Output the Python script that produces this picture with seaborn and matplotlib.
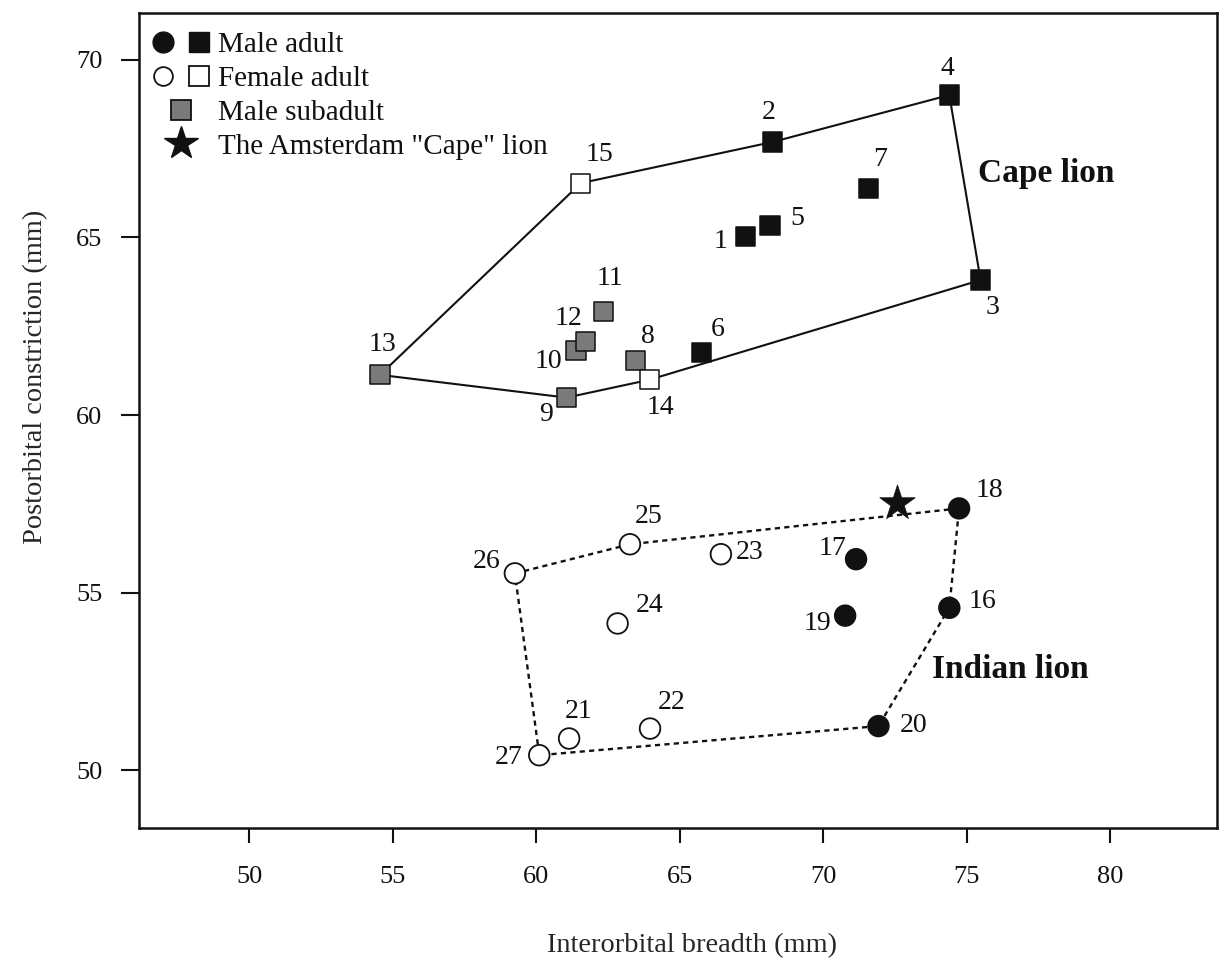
import numpy as np
import pandas as pd
import matplotlib
matplotlib.use("Agg")
import matplotlib.pyplot as plt
from matplotlib.lines import Line2D
from matplotlib.legend_handler import HandlerTuple
import seaborn as sns

# ---------------- data ----------------
specimen_id = list(range(1, 28))
interorbital = [67.31, 68.25, 75.49, 74.40, 68.15, 65.77, 71.58, 63.45, 61.06, 61.39,
                62.34, 61.73, 54.56, 63.94, 61.56,
                74.40, 71.15, 74.74, 70.77, 71.93, 61.15, 63.97, 66.44, 62.84, 63.27,
                59.26, 60.11]
postorbital = [65.02, 67.69, 63.80, 69.01, 65.33, 61.75, 66.37, 61.53, 60.49, 61.81,
               62.91, 62.06, 61.13, 60.99, 66.53,
               54.57, 55.94, 57.37, 54.35, 51.24, 50.89, 51.17, 56.08, 54.13, 56.36,
               55.54, 50.42]
population = ["Cape"] * 15 + ["Indian"] * 12
sex_age = (["Male adult"] * 7 + ["Male subadult"] * 6 + ["Female adult"] * 2
           + ["Male adult"] * 5 + ["Female adult"] * 7)

amsterdam_x = [72.59]
amsterdam_y = [57.53]

cape_hull_ids = [13, 15, 2, 4, 3, 14, 9, 13]
indian_hull_ids = [26, 25, 18, 16, 20, 27, 26]

x_ticks = [50, 55, 60, 65, 70, 75, 80]
y_ticks = [50, 55, 60, 65, 70]

# label offsets (pixels) relative to each marker
label_offsets = [(-25, -5), (-4, 29), (12, -27), (-2, 27), (27, 7), (16, 23), (12, 29),
                 (13, 24), (-20, -17), (-28, -11), (7, 33), (-17, 23), (2, 30),
                 (11, -28), (19, 29), (33, 6), (-24, 11), (30, 18), (-28, -8),
                 (35, 1), (10, 27), (22, 26), (29, 2), (32, 18), (19, 28), (-28, 12),
                 (-31, -2)]

df = pd.DataFrame({"id": specimen_id, "x": interorbital, "y": postorbital,
                   "population": population, "group": sex_age})

# ---------------- style ----------------
sns.set_theme(style="ticks")
plt.rcParams["font.family"] = ["Liberation Serif", "DejaVu Serif"]
plt.rcParams["axes.linewidth"] = 1.8
plt.rcParams["text.color"] = "#111111"

fig = plt.figure(figsize=(12.19, 9.58), dpi=100)
ax = fig.add_axes([0.114, 0.1357, 0.8844, 0.8507])

palette = {"Male adult": "#111111", "Female adult": "white", "Male subadult": "#7a7a7a"}

# hull lines
cx = [interorbital[i - 1] for i in cape_hull_ids]
cy = [postorbital[i - 1] for i in cape_hull_ids]
sns.lineplot(x=cx, y=cy, sort=False, estimator=None, color="#111111", lw=1.5, ax=ax)
ix = [interorbital[i - 1] for i in indian_hull_ids]
iy = [postorbital[i - 1] for i in indian_hull_ids]
sns.lineplot(x=ix, y=iy, sort=False, estimator=None, color="#111111", lw=1.7,
             linestyle=(0, (2.2, 1.8)), ax=ax)

# points
cape = df[df.population == "Cape"]
ind = df[df.population == "Indian"]
sns.scatterplot(data=cape, x="x", y="y", hue="group", palette=palette, marker="s",
                s=190, edgecolor="#111111", linewidth=1.1, legend=False, zorder=3, ax=ax)
sns.scatterplot(data=ind, x="x", y="y", hue="group", palette=palette, marker="o",
                s=220, edgecolor="#111111", linewidth=1.3, legend=False, zorder=3, ax=ax)
sns.scatterplot(x=amsterdam_x, y=amsterdam_y, marker="*", s=720, color="#111111",
                edgecolor="#111111", linewidth=0.5, legend=False, zorder=4, ax=ax)

for sid, xv, yv, (dx, dy) in zip(specimen_id, interorbital, postorbital, label_offsets):
    ax.annotate(str(sid), (xv, yv), xytext=(dx, dy), textcoords="offset pixels",
                ha="center", va="center", fontsize=20)

ax.text(77.77, 66.81, "Cape lion", fontsize=24, fontweight="bold", ha="center", va="center")
ax.text(76.52, 52.82, "Indian lion", fontsize=24, fontweight="bold", ha="center", va="center")

# axes
ax.set_xlim(46.16, 83.73)
ax.set_ylim(48.37, 71.32)
ax.set_xticks(x_ticks)
ax.set_yticks(y_ticks)
ax.tick_params(axis="x", direction="out", length=10.8, width=1.5, pad=16.5, labelsize=19,
               colors="#111111")
ax.tick_params(axis="y", direction="out", length=13, width=1.5, pad=13.5, labelsize=19,
               colors="#111111")
for s in ax.spines.values():
    s.set_color("#111111")
    s.set_linewidth(1.8)

ax.set_xlabel("Interorbital breadth (mm)", fontsize=20.4)
ax.set_ylabel("Postorbital constriction (mm)", fontsize=20.4)
ax.xaxis.set_label_coords(0.513, -0.1285)
ax.yaxis.set_label_coords(-0.084, 0.553)

# legend
h_ma = (Line2D([], [], marker="o", ls="", ms=15, mfc="#111111", mec="#111111"),
        Line2D([], [], marker="s", ls="", ms=14.5, mfc="#111111", mec="#111111"))
h_fa = (Line2D([], [], marker="o", ls="", ms=13.5, mfc="white", mec="#111111", mew=1.3),
        Line2D([], [], marker="s", ls="", ms=14, mfc="white", mec="#111111", mew=1.3))
h_ms = Line2D([], [], marker="s", ls="", ms=14, mfc="#7a7a7a", mec="#111111", mew=1.3)
h_st = Line2D([], [], marker="*", ls="", ms=25, mfc="#111111", mec="#111111")
ax.legend([h_ma, h_fa, h_ms, h_st],
          ["Male adult", "Female adult", "Male subadult", 'The Amsterdam "Cape" lion'],
          handler_map={tuple: HandlerTuple(ndivide=None, pad=0.41)},
          loc="upper left", bbox_to_anchor=(0, 1 - 7 / 815), frameon=False, fontsize=21,
          borderpad=0, borderaxespad=0.41, handlelength=2.05, handletextpad=0.24,
          labelspacing=0.25)

fig.savefig("out.png", dpi=100)
